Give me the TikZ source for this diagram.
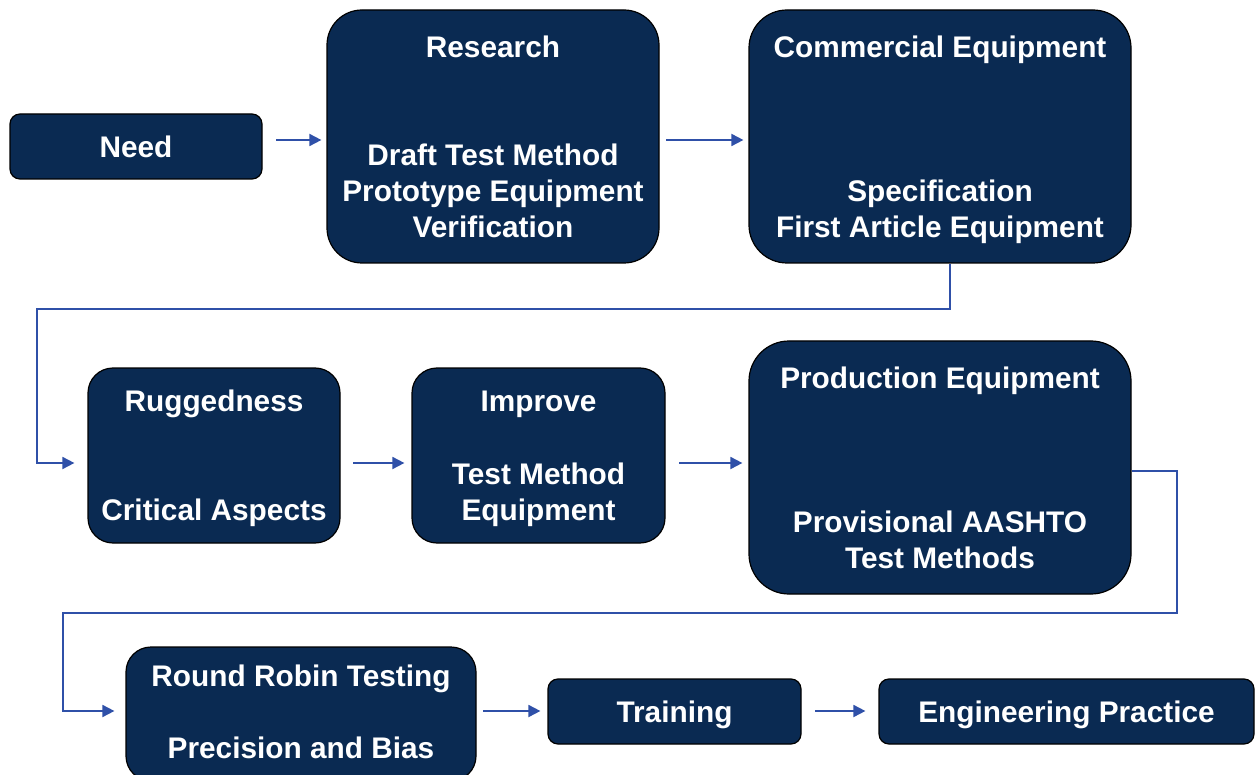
\documentclass[tikz,border=0pt]{standalone}
\usepackage{fontspec}
\setmainfont{Liberation Sans}
\usetikzlibrary{arrows.meta}
\definecolor{navy}{RGB}{10,42,82}
\definecolor{flowblue}{RGB}{47,80,168}
\tikzset{box/.style={draw=black, line width=1.2pt, fill=navy, text=white, inner sep=0pt, text depth=0pt, font=\bfseries\fontsize{29.8}{36}\selectfont, align=center},
  txt/.style={draw=none, fill=none, text=white, inner sep=0pt, text depth=0pt, font=\bfseries\fontsize{29.8}{36}\selectfont, align=center},
  flow/.style={draw=flowblue, line width=1.8pt, -{Triangle[length=12pt,width=12pt]}}}

\begin{document}
\begin{tikzpicture}[x=1pt, y=-1pt]
  \useasboundingbox (0,0) rectangle (1255,775);

  \node (need) [box, rounded corners=10pt, minimum width=252pt, minimum height=65pt] at (136, 146.5) {Need};
  \node (research) [box, rounded corners=35pt, minimum width=332pt, minimum height=253pt] at (493, 136.5) {};
  \node (commercial) [box, rounded corners=38pt, minimum width=382pt, minimum height=253pt] at (940, 136.5) {};
  \node (rugged) [box, rounded corners=25pt, minimum width=252pt, minimum height=175pt] at (214, 455.5) {};
  \node (improve) [box, rounded corners=25pt, minimum width=253pt, minimum height=175pt] at (538.5, 455.5) {};
  \node (production) [box, rounded corners=40pt, minimum width=382pt, minimum height=253pt] at (940, 467.5) {};
  \node (robin) [box, rounded corners=25pt, minimum width=350pt, minimum height=134pt] at (301, 714) {};
  \node (training) [box, rounded corners=10pt, minimum width=253pt, minimum height=65pt] at (674.5, 711.5) {Training};
  \node (practice) [box, rounded corners=10pt, minimum width=375pt, minimum height=65pt] at (1066.5, 711.5) {Engineering Practice};

  \node (researchT) [txt] at (493, 47) {Research};
  \node (researchB) [txt] at (493, 191) {Draft Test Method\\Prototype Equipment\\Verification};
  \node (commercialT) [txt] at (940, 47) {Commercial Equipment};
  \node (commercialB) [txt] at (940, 209) {Specification\\First Article Equipment};
  \node (ruggedT) [txt] at (214, 401) {Ruggedness};
  \node (ruggedB) [txt] at (214, 510) {Critical Aspects};
  \node (improveT) [txt] at (538.5, 401) {Improve};
  \node (improveB) [txt] at (538.5, 491.5) {Test Method\\Equipment};
  \node (productionT) [txt] at (940, 378) {Production Equipment};
  \node (productionB) [txt] at (940, 540) {Provisional AASHTO\\Test Methods};
  \node (robinT) [txt] at (301, 676) {Round Robin Testing};
  \node (robinB) [txt] at (301, 748) {Precision and Bias};

  \coordinate (c1) at (276, 140);
  \coordinate (c2) at (666, 140);
  \coordinate (c3) at (950, 309);
  \coordinate (c4) at (37, 463);
  \coordinate (c5) at (353, 463);
  \coordinate (c6) at (679, 463);
  \coordinate (c7) at (1177, 471);
  \coordinate (c8) at (63, 613);
  \coordinate (c9) at (483, 711);
  \coordinate (c10) at (815, 711);

  \draw[flow, shorten >=5pt] (c1) -- (c1 -| research.west);
  \draw[flow, shorten >=5pt] (c2) -- (c2 -| commercial.west);
  \draw[flow, shorten >=13pt] (c3 |- commercial.south) -- (c3) -| (c4) -- (c4 -| rugged.west);
  \draw[flow, shorten >=7pt] (c5) -- (c5 -| improve.west);
  \draw[flow, shorten >=6pt] (c6) -- (c6 -| production.west);
  \draw[flow, shorten >=11pt] (c7 -| production.east) -- (c7) |- (c8) |- (c9 -| robin.west);
  \draw[flow, shorten >=7pt] (c9) -- (c9 -| training.west);
  \draw[flow, shorten >=13pt] (c10) -- (c10 -| practice.west);
\end{tikzpicture}
\end{document}
